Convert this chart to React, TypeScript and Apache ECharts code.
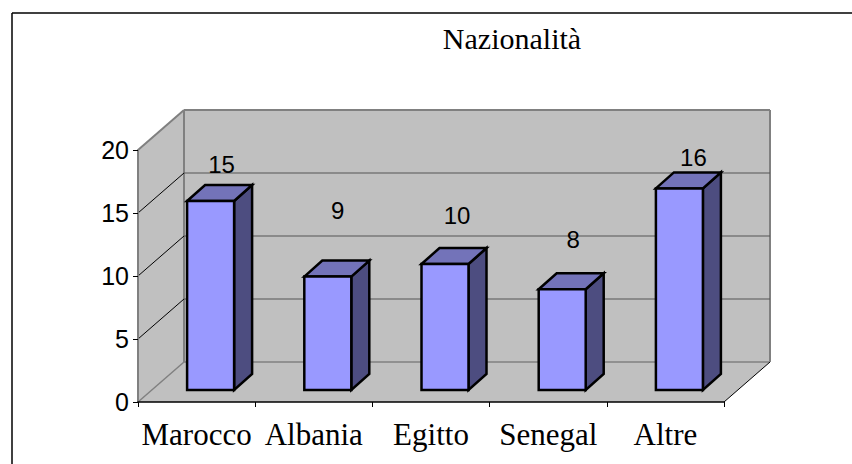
import React, { useEffect, useRef } from "react";
import * as echarts from "echarts";

const title = "Nazionalità";
const categories = ["Marocco", "Albania", "Egitto", "Senegal", "Altre"];
const values = [15, 9, 10, 8, 16];
const gridTicks = [0, 5, 10, 15, 20];

const wallDepth = [46, -40];
const barDepth = [18, -16];
const barInset = [14, -12];
const barHalfWidth = 23.5;
const labelOffsets = [[11, -37], [10, -66], [12, -49], [11, -50], [14, -31]];
const wallFill = "#c0c0c0";
const wallEdge = "#808080";

export default function App() {
  const ref = useRef<HTMLDivElement>(null);
  useEffect(() => {
    const chart = echarts.init(ref.current!, null, { renderer: "svg" });
    chart.setOption({
      animation: false,
      backgroundColor: "#ffffff",
      title: {
        text: title,
        left: 507,
        top: 18,
        textAlign: "center",
        textStyle: { fontFamily: "Liberation Serif", fontSize: 30, fontWeight: "normal", color: "#000" },
      },
      graphic: [
        { type: "line", shape: { x1: 12, y1: 13, x2: 852, y2: 13 }, style: { stroke: "#000", lineWidth: 1.5 }, z: 0 },
        { type: "line", shape: { x1: 12, y1: 13, x2: 12, y2: 464 }, style: { stroke: "#000", lineWidth: 1.5 }, z: 0 },
      ],
      grid: { left: 138, right: 128, top: 150, bottom: 62 },
      xAxis: {
        type: "category",
        data: categories,
        z: 5,
        axisLine: { show: true, lineStyle: { color: "#000", width: 1.5 } },
        axisTick: { show: true, length: 5, lineStyle: { color: "#000" } },
        axisLabel: { interval: 0, margin: 17, fontFamily: "Liberation Serif", fontSize: 31, color: "#000" },
      },
      yAxis: {
        type: "value",
        min: 0,
        max: 20,
        interval: 5,
        z: 5,
        splitLine: { show: false },
        axisLine: { show: true, lineStyle: { color: wallEdge, width: 2 } },
        axisTick: { show: true, length: 5, lineStyle: { color: "#000" } },
        axisLabel: { margin: 9, fontFamily: "Liberation Sans", fontSize: 25, color: "#000" },
      },
      series: [
        {
          type: "custom",
          coordinateSystem: "cartesian2d",
          silent: true,
          z: 1,
          data: gridTicks,
          renderItem: (params: any, api: any) => {
            const tick = api.value(0) as number;
            const cs = params.coordSys;
            const left = cs.x;
            const right = cs.x + cs.width;
            const y = api.coord([0, tick])[1];
            const [dx, dy] = wallDepth;
            const y0 = cs.y + cs.height;
            const children: any[] = [];
            if (tick === gridTicks[0]) {
              children.push(
                { type: "polygon", shape: { points: [[left, cs.y], [left + dx, cs.y + dy], [left + dx, y0 + dy], [left, y0]] }, style: { fill: wallFill } },
                { type: "polygon", shape: { points: [[left + dx, cs.y + dy], [right + dx, cs.y + dy], [right + dx, y0 + dy], [left + dx, y0 + dy]] }, style: { fill: wallFill } },
                { type: "polygon", shape: { points: [[left, y0], [left + dx, y0 + dy], [right + dx, y0 + dy], [right, y0]] }, style: { fill: wallFill } },
                { type: "line", shape: { x1: left, y1: y0, x2: left + dx, y2: y0 + dy }, style: { stroke: wallEdge, lineWidth: 1.5 } },
                { type: "line", shape: { x1: left + dx, y1: y0 + dy, x2: right + dx, y2: y0 + dy }, style: { stroke: wallEdge, lineWidth: 1.5 } },
                { type: "line", shape: { x1: right, y1: y0, x2: right + dx, y2: y0 + dy }, style: { stroke: "#000", lineWidth: 1 } },
                { type: "line", shape: { x1: left + dx, y1: cs.y + dy, x2: left + dx, y2: y0 + dy }, style: { stroke: wallEdge, lineWidth: 2 } },
                { type: "line", shape: { x1: right + dx, y1: cs.y + dy, x2: right + dx, y2: y0 + dy }, style: { stroke: wallEdge, lineWidth: 2 } },
              );
            } else if (tick === gridTicks[gridTicks.length - 1]) {
              children.push(
                { type: "line", shape: { x1: left, y1: y, x2: left + dx, y2: y + dy }, style: { stroke: wallEdge, lineWidth: 2 } },
                { type: "line", shape: { x1: left + dx, y1: y + dy, x2: right + dx, y2: y + dy }, style: { stroke: wallEdge, lineWidth: 2 } },
              );
            } else {
              children.push(
                { type: "line", shape: { x1: left, y1: y, x2: left + dx, y2: y + dy }, style: { stroke: "#000", lineWidth: 1 } },
                { type: "line", shape: { x1: left + dx, y1: y + dy, x2: right + dx, y2: y + dy }, style: { stroke: "#555", lineWidth: 1 } },
              );
            }
            return { type: "group", children };
          },
          encode: { y: 0 },
        },
        {
          type: "custom",
          coordinateSystem: "cartesian2d",
          silent: true,
          z: 3,
          data: values.map((v, i) => [i, v]),
          encode: { x: 0, y: 1 },
          renderItem: (_params: any, api: any) => {
            const i = api.value(0) as number;
            const v = api.value(1) as number;
            const base = api.coord([i, 0]);
            const top = api.coord([i, v]);
            const cx = base[0] + barInset[0];
            const yb = base[1] + barInset[1];
            const yt = top[1] + barInset[1];
            const l = cx - barHalfWidth;
            const r = cx + barHalfWidth;
            const [dx, dy] = barDepth;
            const edge = { stroke: "#000", lineWidth: 2.5, lineJoin: "miter" };
            return {
              type: "group",
              children: [
                { type: "polygon", shape: { points: [[r, yt], [r + dx, yt + dy], [r + dx, yb + dy], [r, yb]] }, style: { fill: "#4d4d80", ...edge } },
                { type: "polygon", shape: { points: [[l, yt], [l + dx, yt + dy], [r + dx, yt + dy], [r, yt]] }, style: { fill: "#7373b9", ...edge } },
                { type: "rect", shape: { x: l, y: yt, width: r - l, height: yb - yt }, style: { fill: "#9999ff", ...edge } },
                {
                  type: "text",
                  z2: 10,
                  style: {
                    text: String(v),
                    x: cx + labelOffsets[i][0],
                    y: yt + labelOffsets[i][1],
                    align: "center",
                    verticalAlign: "middle",
                    font: "24px 'Liberation Sans'",
                    fill: "#000",
                  },
                },
              ],
            };
          },
        },
      ],
    });
    return () => chart.dispose();
  }, []);
  return <div ref={ref} style={{ width: 852, height: 464, position: "absolute", left: 0, top: 0 }} />;
}
